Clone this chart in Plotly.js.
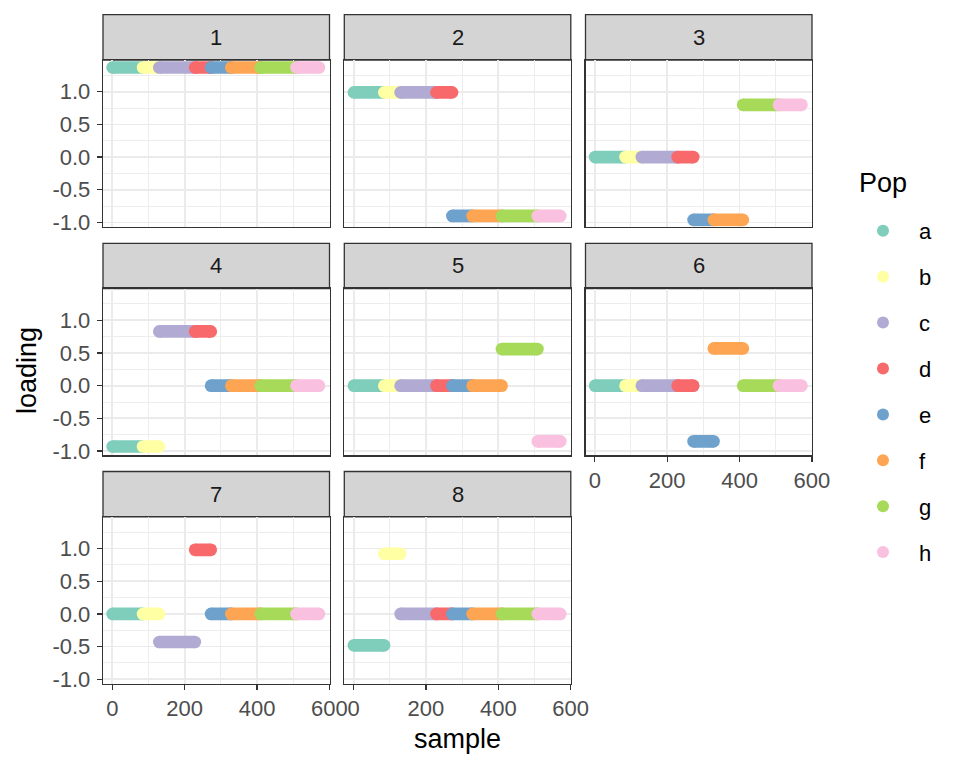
<!DOCTYPE html>
<html>
<head>
<meta charset="utf-8">
<script src="https://cdn.plot.ly/plotly-3.0.1.min.js"></script>
<style>
  html, body { margin: 0; padding: 0; background: #ffffff; }
  #chart { width: 960px; height: 768px; }
</style>
</head>
<body>
<div id="chart"></div>
<script>
// ---- data ----
const pops = ['a', 'b', 'c', 'd', 'e', 'f', 'g', 'h'];
const popColors = ['#7FCDBB', '#FFFFA3', '#B1ABD3', '#F8696B', '#6EA1CB', '#FDA553', '#A6DA58', '#F9C0DF'];
// first and last sample index of each population
const popStart = [1, 85, 130, 229, 273, 329, 410, 509];
const popEnd = [84, 129, 228, 272, 328, 409, 508, 571];
const factors = ['1', '2', '3', '4', '5', '6', '7', '8'];
// loading of each population on each factor (one array per panel)
const loading1 = [1.37, 1.37, 1.37, 1.37, 1.37, 1.37, 1.37, 1.37];
const loading2 = [0.99, 0.99, 0.99, 0.99, -0.90, -0.90, -0.90, -0.90];
const loading3 = [0.00, 0.00, 0.00, 0.00, -0.96, -0.96, 0.80, 0.80];
const loading4 = [-0.93, -0.93, 0.83, 0.83, 0.00, 0.00, 0.00, 0.00];
const loading5 = [0.00, 0.00, 0.00, 0.00, 0.00, 0.00, 0.56, -0.85];
const loading6 = [0.00, 0.00, 0.00, 0.00, -0.85, 0.57, 0.00, 0.00];
const loading7 = [0.00, 0.00, -0.43, 0.98, 0.00, 0.00, 0.00, 0.00];
const loading8 = [-0.48, 0.92, 0.00, 0.00, 0.00, 0.00, 0.00, 0.00];
const loadings = [loading1, loading2, loading3, loading4, loading5, loading6, loading7, loading8];
const xTickVals = [0, 200, 400, 600];
const xTickText = ['0', '200', '400', '600'];
const yTickVals = [-1, -0.5, 0, 0.5, 1];
const yTickText = ['-1.0', '-0.5', '0.0', '0.5', '1.0'];

// ---- layout geometry (pixels) ----
const W = 960, H = 768;
const colLeft = [103, 344.3, 585.5];
const panelW = 226.5;
const rowStripTop = [14.7, 243.3, 471.5];
const stripH = 45.3;
const panelH = 166.8;
const FONT = '"Liberation Sans", Arial, Helvetica, sans-serif';
const markerPx = 12.7;
const TICK_SIZE = 22, TITLE_SIZE = 27;

const traces = [];
const layout = {
  width: W, height: H,
  margin: {l: 0, r: 0, t: 0, b: 0},
  paper_bgcolor: '#ffffff',
  plot_bgcolor: '#ffffff',
  font: {family: FONT, size: TICK_SIZE, color: '#4D4D4D'},
  showlegend: true,
  legend: {
    x: 847 / W, xanchor: 'left',
    y: 1 - 210 / H, yanchor: 'top',
    bgcolor: 'rgba(0,0,0,0)',
    borderwidth: 0,
    font: {family: FONT, size: TICK_SIZE, color: '#000000'},
    tracegroupgap: 14.3,
    itemwidth: 62,
    itemclick: false,
    itemdoubleclick: false
  },
  shapes: [],
  annotations: []
};

// bottom-most panel in each column shows x labels: 7, 8, 6 ; left column shows y labels
const showX = [false, false, false, false, false, true, true, true];
const showY = [true, false, false, true, false, false, true, false];

factors.forEach((f, k) => {
  const col = k % 3, row = Math.floor(k / 3);
  const x0 = colLeft[col], x1 = x0 + panelW;
  const pTop = rowStripTop[row] + stripH, pBot = pTop + panelH;
  const sfx = k === 0 ? '' : String(k + 1);
  const xa = 'xaxis' + sfx, ya = 'yaxis' + sfx;

  layout[xa] = {
    domain: [x0 / W, x1 / W],
    anchor: 'y' + sfx,
    range: [-25.7, 600.2],
    tickmode: 'array', tickvals: xTickVals, ticktext: xTickText,
    showticklabels: showX[k],
    ticks: showX[k] ? 'outside' : '',
    ticklen: 5, tickwidth: 1.3, tickcolor: '#333333',
    tickfont: {family: FONT, size: TICK_SIZE, color: '#4D4D4D'},
    showgrid: true, gridcolor: '#EBEBEB', gridwidth: 1.8,
    minor: {tickmode: 'linear', tick0: 0, dtick: 100, showgrid: true, gridcolor: '#EBEBEB', gridwidth: 0.9, ticks: ''},
    zeroline: false,
    showline: true, mirror: true, linecolor: '#333333', linewidth: 1.3,
    fixedrange: true
  };
  layout[ya] = {
    domain: [1 - pBot / H, 1 - pTop / H],
    anchor: 'x' + sfx,
    range: [-1.066, 1.485],
    tickmode: 'array', tickvals: yTickVals, ticktext: yTickText,
    showticklabels: showY[k],
    ticks: showY[k] ? 'outside' : '',
    ticklen: 5, tickwidth: 1.3, tickcolor: '#333333',
    tickfont: {family: FONT, size: TICK_SIZE, color: '#4D4D4D'},
    ticklabelstandoff: 2,
    showgrid: true, gridcolor: '#EBEBEB', gridwidth: 1.8,
    minor: {tickmode: 'linear', tick0: 0, dtick: 0.25, showgrid: true, gridcolor: '#EBEBEB', gridwidth: 0.9, ticks: ''},
    zeroline: false,
    showline: true, mirror: true, linecolor: '#333333', linewidth: 1.3,
    fixedrange: true
  };

  // strip
  layout.shapes.push({
    type: 'rect', xref: 'paper', yref: 'paper',
    x0: x0 / W, x1: x1 / W,
    y0: 1 - pTop / H, y1: 1 - rowStripTop[row] / H,
    fillcolor: '#D4D4D4', line: {color: '#333333', width: 1.3}, layer: 'below'
  });
  layout.annotations.push({
    xref: 'paper', yref: 'paper',
    x: (x0 + x1) / 2 / W, y: 1 - (rowStripTop[row] + stripH / 2) / H,
    xanchor: 'center', yanchor: 'middle',
    text: f, showarrow: false,
    font: {family: FONT, size: TICK_SIZE, color: '#1A1A1A'}
  });

  // data: each population is a run of consecutive samples with one loading
  pops.forEach((p, i) => {
    const v = loadings[k][i];
    traces.push({
      type: 'scatter', mode: 'lines+markers',
      x: [popStart[i], popEnd[i]], y: [v, v],
      xaxis: 'x' + sfx, yaxis: 'y' + sfx,
      line: {color: popColors[i], width: markerPx},
      marker: {color: popColors[i], size: markerPx, line: {width: 0}},
      legendgroup: p, showlegend: false, hoverinfo: 'skip'
    });
  });
});

// legend-only entries
pops.forEach((p, i) => {
  traces.push({
    type: 'scatter', mode: 'markers',
    x: [null], y: [null], xaxis: 'x', yaxis: 'y',
    name: p, legendgroup: p, showlegend: true,
    marker: {color: popColors[i], size: 12, line: {width: 0}},
    hoverinfo: 'skip'
  });
});

// legend title
layout.annotations.push({
  xref: 'paper', yref: 'paper', x: 857 / W, y: 1 - 183 / H,
  xanchor: 'left', yanchor: 'middle',
  text: 'Pop', showarrow: false,
  font: {family: FONT, size: TITLE_SIZE, color: '#000000'}
});

// axis titles
layout.annotations.push({
  xref: 'paper', yref: 'paper', x: 27 / W, y: 1 - 371 / H,
  xanchor: 'center', yanchor: 'middle', textangle: -90,
  text: 'loading', showarrow: false,
  font: {family: FONT, size: TITLE_SIZE, color: '#000000'}
});
layout.annotations.push({
  xref: 'paper', yref: 'paper', x: 457.5 / W, y: 1 - 739 / H,
  xanchor: 'center', yanchor: 'middle',
  text: 'sample', showarrow: false,
  font: {family: FONT, size: TITLE_SIZE, color: '#000000'}
});

Plotly.newPlot('chart', traces, layout, {displayModeBar: false, staticPlot: true});
</script>
</body>
</html>
